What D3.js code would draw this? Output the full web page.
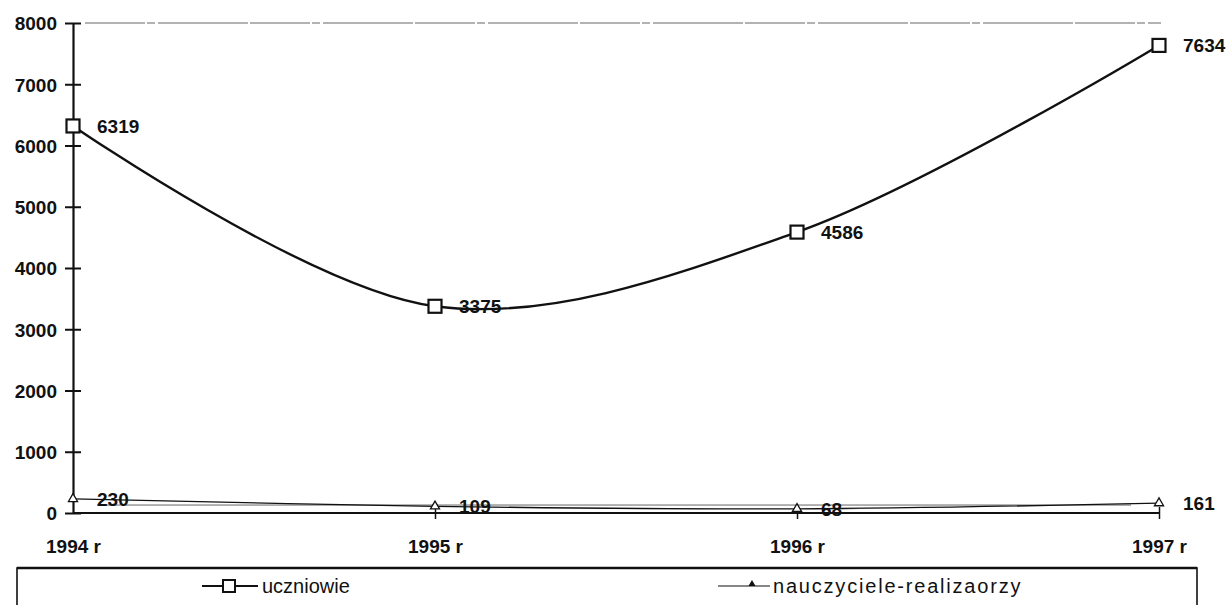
<!DOCTYPE html>
<html>
<head>
<meta charset="utf-8">
<script src="https://cdn.jsdelivr.net/npm/d3@7"></script>
<style>
  body { margin: 0; background: #fff; }
  svg text { font-family: "Liberation Sans", Arial, sans-serif; fill: #111; }
</style>
</head>
<body>
<svg id="chart" width="1232" height="605"></svg>
<script>
// chart data
const years = ["1994 r", "1995 r", "1996 r", "1997 r"];
const uczniowie = [6319, 3375, 4586, 7634];
const nauczyciele = [230, 109, 68, 161];
const yTicks = [0, 1000, 2000, 3000, 4000, 5000, 6000, 7000, 8000];
const seriesNames = ["uczniowie", "nauczyciele-realizaorzy"];

const svg = d3.select("#chart");
const mLeft = 73, mRight = 1159, mTop = 23, mBottom = 513;

const x = d3.scalePoint().domain(years).range([mLeft, mRight]).padding(0);
const y = d3.scaleLinear().domain([0, 8000]).range([mBottom, mTop]);

// top gridline (faint, scanned look)
svg.append("line")
  .attr("x1", mLeft + 12).attr("x2", mRight + 2)
  .attr("y1", y(8000)).attr("y2", y(8000))
  .attr("stroke", "#666").attr("stroke-width", 1)
  .attr("stroke-dasharray", "60 2 8 3 90 2");

// y axis
const yAxis = svg.append("g").attr("transform", `translate(${mLeft},0)`)
  .call(d3.axisLeft(y).tickValues(yTicks).tickFormat(d3.format("d")).tickSize(0).tickPadding(16));
yAxis.select(".domain").attr("stroke", "#111").attr("stroke-width", 2.2);
yAxis.selectAll(".tick line").remove();
yAxis.selectAll(".tick")
  .append("line").attr("x1", -8).attr("x2", 8)
  .attr("stroke", "#111").attr("stroke-width", 2);
yAxis.selectAll("text")
  .style("font-size", "19px").style("font-weight", "bold")
  .attr("dy", "0.36em");

// x axis
const xAxis = svg.append("g").attr("transform", `translate(0,${mBottom})`)
  .call(d3.axisBottom(x).tickSize(0).tickPadding(27));
xAxis.select(".domain").remove();
xAxis.append("line").attr("x1", mLeft).attr("x2", mRight)
  .attr("stroke", "#111").attr("stroke-width", 2.2);
xAxis.selectAll(".tick").filter((d, i) => i > 0)
  .append("line").attr("y1", -6).attr("y2", 6)
  .attr("stroke", "#111").attr("stroke-width", 1.5);
xAxis.selectAll("text")
  .style("font-size", "19px").style("font-weight", "bold");

// faint parallel scan line near zero
svg.append("line")
  .attr("x1", x(years[0]) + 24).attr("x2", mRight - 28)
  .attr("y1", y(130)).attr("y2", y(130))
  .attr("stroke", "#666").attr("stroke-width", 1);

const line = d3.line()
  .x((d, i) => x(years[i]))
  .y(d => y(d))
  .curve(d3.curveCatmullRom.alpha(0.5));

// series 2
svg.append("path").datum(nauczyciele)
  .attr("d", line).attr("fill", "none")
  .attr("stroke", "#111").attr("stroke-width", 1.3);
const tri = d3.symbol().type(d3.symbolTriangle).size(36);
svg.selectAll(".tri").data(nauczyciele).join("path")
  .attr("transform", (d, i) => `translate(${x(years[i])},${y(d)})`)
  .attr("d", tri).attr("fill", "#fff")
  .attr("stroke", "#111").attr("stroke-width", 1.3);

// series 1
svg.append("path").datum(uczniowie)
  .attr("d", line).attr("fill", "none")
  .attr("stroke", "#111").attr("stroke-width", 2.4);
svg.selectAll(".sq").data(uczniowie).join("rect")
  .attr("x", (d, i) => x(years[i]) - 6.5)
  .attr("y", d => y(d) - 6.5)
  .attr("width", 13).attr("height", 13)
  .attr("fill", "#fff").attr("stroke", "#111").attr("stroke-width", 2.2);

// data labels
function labels(data) {
  svg.append("g").selectAll("text").data(data).join("text")
    .attr("x", (d, i) => x(years[i]) + 24)
    .attr("y", d => y(d))
    .attr("dy", "0.36em")
    .style("font-size", "19px").style("font-weight", "bold")
    .text(d => d);
}
labels(uczniowie);
labels(nauczyciele);

// legend
const lg = svg.append("g");
lg.append("rect").attr("x", 17).attr("y", 568).attr("width", 1180).attr("height", 50)
  .attr("fill", "none").attr("stroke", "#111").attr("stroke-width", 1.6);
lg.append("line").attr("x1", 17).attr("x2", 1197).attr("y1", 568).attr("y2", 568)
  .attr("stroke", "#111").attr("stroke-width", 2.6);
lg.append("line").attr("x1", 202).attr("x2", 258).attr("y1", 586).attr("y2", 586)
  .attr("stroke", "#111").attr("stroke-width", 2.2);
lg.append("rect").attr("x", 223).attr("y", 580).attr("width", 12).attr("height", 12)
  .attr("fill", "#fff").attr("stroke", "#111").attr("stroke-width", 2);
lg.append("text").attr("x", 262).attr("y", 586).attr("dy", "0.36em")
  .style("font-size", "20px").text(seriesNames[0]);
lg.append("line").attr("x1", 718).attr("x2", 770).attr("y1", 586).attr("y2", 586)
  .attr("stroke", "#111").attr("stroke-width", 1.2);
lg.append("path").attr("transform", "translate(752,584)")
  .attr("d", d3.symbol().type(d3.symbolTriangle).size(22))
  .attr("fill", "#111");
lg.append("text").attr("x", 773).attr("y", 586).attr("dy", "0.36em")
  .style("font-size", "20px").style("letter-spacing", "1.8px").text(seriesNames[1]);
</script>
</body>
</html>
